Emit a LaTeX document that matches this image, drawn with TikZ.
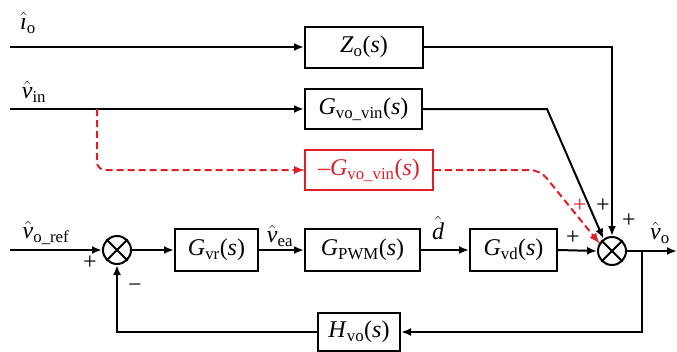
\documentclass[tikz,border=0pt]{standalone}
\usepackage{fontspec}
\setmainfont{Liberation Serif}
\usetikzlibrary{arrows.meta,calc}
\newcommand{\TFn}[2]{\textit{#1}\textsubscript{#2}(\textit{s})}
\newcommand{\hatv}[1]{$\hat{\textit{v}}$\textsubscript{#1}}
\definecolor{myred}{RGB}{225,30,40}
\begin{document}
\begin{tikzpicture}[x=1pt,y=-1pt,
  blk/.style={draw,line width=2pt,minimum height=41pt,inner sep=0pt,font=\fontsize{24}{27}\selectfont},
  sumj/.style={draw,circle,line width=2pt,minimum size=28pt,inner sep=0pt},
  arr/.style={line width=2pt,-{Latex[length=10pt,width=8pt]}},
  ln/.style={line width=2pt},
  lbl/.style={font=\fontsize{24}{27}\selectfont,inner sep=0pt},
  sgn/.style={font=\fontsize{24}{26}\selectfont,inner sep=0pt},
  rdash/.style={myred,line width=2pt,dashed,dash pattern=on 7pt off 4pt}]
\useasboundingbox (0,0) rectangle (677,351);
% blocks
\node[blk,minimum width=118pt] (Zo) at (364,47) {\textit{Z}\textsubscript{o}(\textit{s})};
\node[blk,minimum width=117pt,minimum height=40pt] (Gvin) at (363.5,109) {\TFn{G}{vo\_vin}};
\node[blk,draw=myred,text=myred,minimum width=128pt,minimum height=40pt] (Gred) at (369,170) {\textendash\TFn{G}{vo\_vin}};
\node[blk,minimum width=83pt,minimum height=42pt] (Gvr) at (216.5,250) {\TFn{G}{vr}};
\node[blk,minimum width=115pt,minimum height=42pt] (Gpwm) at (362.5,250) {\TFn{G}{PWM}};
\node[blk,minimum width=87pt,minimum height=42pt] (Gvd) at (513.5,250) {\TFn{G}{vd}};
\node[blk,minimum width=82pt,minimum height=38pt] (Hvo) at (359,332) {\TFn{H}{vo}};
% summing junctions
\node[sumj] (s1) at (117,250) {};
\draw[ln] (s1.45) -- (s1.225) (s1.135) -- (s1.-45);
\node[sumj] (s2) at (612,251) {};
\draw[ln] (s2.45) -- (s2.225) (s2.135) -- (s2.-45);
% coordinates
\coordinate (io) at (10,47);
\coordinate (vin) at (10,109);
\coordinate (br) at (97,109);
\coordinate (vref) at (10,250);
\coordinate (out) at (677,251);
\coordinate (fb) at (642,251);
\coordinate (k1) at (547,109);
\coordinate (k2) at (540,170);
% connectors
\draw[arr] (io) -- (Zo.west);
\draw[arr] (Zo.east) -| (s2.north);
\draw[arr] (vin) -- (Gvin.west);
\draw[arr] (Gvin.east) -- (k1) -- (s2.125);
\draw[rdash,rounded corners=8pt] (br) |- (Gred.west);
\draw[myred,-{Latex[length=10pt,width=8pt]}] ([xshift=-10pt]Gred.west) -- (Gred.west);
\draw[rdash,rounded corners=10pt] (Gred.east) -- (k2) -- (s2.148);
\draw[myred,-{Latex[length=10pt,width=8pt]}] ($(s2.148)!10pt!(k2)$) -- (s2.148);
\draw[arr] (vref) -- (s1.west);
\draw[arr] (s1.east) -- (Gvr.west);
\draw[arr] (Gvr.east) -- (Gpwm.west);
\draw[arr] (Gpwm.east) -- (Gvd.west);
\draw[arr] (Gvd.east) -- (s2.west);
\draw[arr] (s2.east) -- (out);
\draw[arr] (fb) |- (Hvo.east);
\draw[arr] (Hvo.west) -| (s1.south);
% labels
\node[lbl] at (28,23) {$\hat{\textit{\i}}$\textsubscript{o}};
\node[lbl] at (34,92) {\hatv{in}};
\node[lbl] at (46,233) {\hatv{o\_ref}};
\node[lbl] at (280,236) {\hatv{ea}};
\node[lbl] at (438,228) {$\hat{\textit{d}}$};
\node[lbl] at (660,233) {\hatv{o}};
% signs
\node[sgn] at (90,263) {+};
\node[sgn] at (135,288) {\textminus};
\node[sgn] at (573,238) {+};
\node[sgn] at (603,206) {+};
\node[sgn,text=myred] at (580,206) {+};
\node[sgn] at (629,221) {+};
\end{tikzpicture}
\end{document}
